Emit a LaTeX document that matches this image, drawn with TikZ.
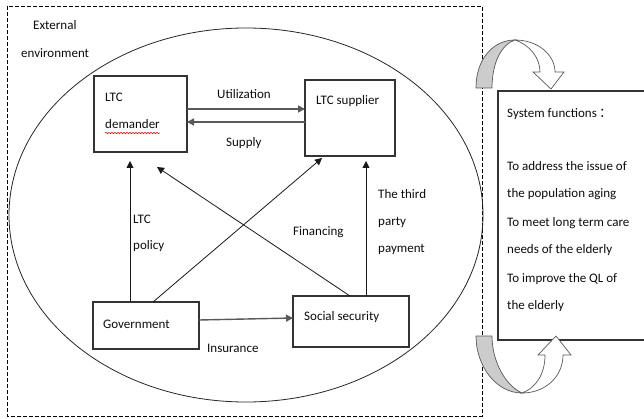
\documentclass[tikz,border=0pt]{standalone}
\usepackage{fontspec}
\setmainfont{Carlito}
\newfontfamily\cjk{Noto Sans CJK SC}
\usetikzlibrary{arrows.meta,decorations.pathmorphing,calc}
\begin{document}
\begin{tikzpicture}[x=1pt,y=-1pt,
  box/.style={draw=black!80, line width=1.1pt, inner sep=0pt, outer sep=0pt},
  lbl/.style={anchor=base west, inner sep=0pt, text=black!95, font=\fontsize{13}{15}\selectfont},
  arr/.style={-{Triangle[length=7pt,width=7pt]}, line width=0.8pt, draw=black!90},
  harr/.style={arr, line width=1.4pt, draw=black!65},
  curvgray/.style={fill=black!20, draw=black!65, line width=0.7pt},
  curvwhite/.style={fill=white, draw=black!65, line width=0.7pt}]
\clip (0,0) rectangle (644,419);
\fill[white] (0,0) rectangle (644,419);
\draw[dash pattern=on 4pt off 2pt, line width=0.8pt] (7,6) rectangle (482,416);
\draw[line width=0.8pt, black!85] (246,215) ellipse [x radius=237, y radius=187];

% boxes
\node[box, minimum width=93pt, minimum height=76pt] (dem) at (140.5,114) {};
\node[box, minimum width=90pt, minimum height=76pt] (sup) at (350,118) {};
\node[box, minimum width=106pt, minimum height=47pt] (gov) at (146,325.5) {};
\node[box, minimum width=116pt, minimum height=51pt] (soc) at (351,321.5) {};
\node[box, anchor=north west, minimum width=180pt, minimum height=249pt] (sys) at (498,91) {};

% labels
\node[lbl] (t1) at (33,29.5) {External};
\node[lbl] (t2) at (21,57.5) {environment};
\node[lbl] (t3) at (105,101.5) {LTC};
\node[lbl] (t4) at (105,128.5) {demander};
\draw[red, line width=0.5pt, decorate, decoration={snake, amplitude=0.8pt, segment length=3pt}] ([yshift=-4.5pt]t4.base west) -- ([yshift=-4.5pt]t4.base east);
\node[lbl] (t5) at (316,104.5) {LTC supplier};
\node[lbl] (t6) at (217,98.5) {Utilization};
\node[lbl] (t7) at (226,147) {Supply};
\node[lbl] (t8) at (133,223.5) {LTC};
\node[lbl] (t9) at (133,250) {policy};
\node[lbl] (t10) at (293,236) {Financing};
\node[lbl] (t11) at (378,198.5) {The third};
\node[lbl] (t12) at (378,226) {party};
\node[lbl] (t13) at (378,252) {payment};
\node[lbl] (t14) at (103,328.5) {Government};
\node[lbl] (t15) at (304,320.5) {Social security};
\node[lbl] (t16) at (207,352.5) {Insurance};

\node[lbl] (s1) at (507,117.5) {System functions\,{\cjk ：}};
\node[lbl] (s2) at (507,171) {To address the issue of};
\node[lbl] (s3) at (507,197.5) {the population aging};
\node[lbl] (s4) at (507,226.5) {To meet long term care};
\node[lbl] (s5) at (507,253.5) {needs of the elderly};
\node[lbl] (s6) at (507,282) {To improve the QL of};
\node[lbl] (s7) at (507,309.5) {the elderly};

% connectors
\draw[harr] ([yshift=5pt]dem.east) coordinate (u1) -- (u1 -| sup.west);
\draw[harr] ([yshift=-4pt]sup.west) coordinate (u2) -- (u2 -| dem.east);
\draw[arr, shorten >=9pt] ([xshift=-16pt]gov.north) coordinate (u3) -- (u3 |- dem.south);
\draw[arr] ([xshift=7pt]gov.north) -- ([xshift=-28pt,yshift=-2pt]sup.south);
\draw[arr] ([xshift=-1pt]soc.north) -- ([xshift=16.5pt,yshift=-15pt]dem.south);
\draw[arr, shorten >=5pt] ([xshift=15pt]soc.north) coordinate (u4) -- (u4 |- sup.south);
\draw[harr] ([yshift=5.5pt]gov.east) -- ([yshift=3.5pt]soc.west);

% curved arrows
\draw[curvgray] (476,88) .. controls (476,58) and (494,40) .. (515,40) .. controls (502,44) and (492,62) .. (492,88) -- cycle;
\draw[curvwhite] (515,40) .. controls (538,40) and (555,55) .. (555,72) -- (564,72) -- (551,89) -- (533,72) -- (540,72) .. controls (540,58) and (530,45) .. (515,40) -- cycle;
\draw[curvgray] (476,336) .. controls (476,366) and (496,393) .. (522,393) .. controls (506,386) and (492,362) .. (492,336) -- cycle;
\draw[curvwhite] (522,393) .. controls (546,393) and (563,376) .. (563,355) -- (571,355) -- (556,336) -- (538,355) -- (545,355) .. controls (545,374) and (536,388) .. (522,393) -- cycle;
\end{tikzpicture}
\end{document}
